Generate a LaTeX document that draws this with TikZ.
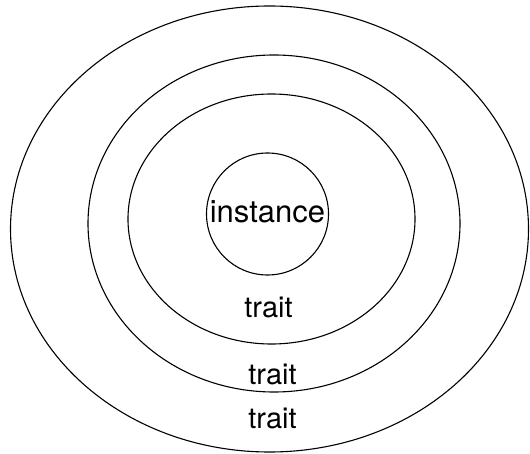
\documentclass[tikz,border=0pt]{standalone}
\usepackage{fontspec}
\setmainfont{TeX Gyre Heros}
\usetikzlibrary{shapes.geometric}
\begin{document}
\begin{tikzpicture}[
    x=1pt,y=-1pt,
    ring/.style={draw,ellipse,line width=1.1pt,inner sep=0pt},
    lbl/.style={anchor=base,inner sep=0pt,font=\fontsize{29}{34}\selectfont}
]
\useasboundingbox (0,0) rectangle (530,454);
\node[ring,minimum width=518pt,minimum height=446pt] (outer) at (269.5,229) {};
\node[ring,minimum width=372pt,minimum height=337pt] (middle) at (274,223.5) {};
\node[ring,minimum width=287pt,minimum height=250pt] (inner) at (271.5,219) {};
\node[ring,circle,minimum size=122pt] (core) at (267.5,214) {};
\node[lbl,font=\fontsize{31}{36}\selectfont] (inst) at (267.5,222.5) {instance};
\node[lbl] (trait1) at (268.5,317) {trait};
\node[lbl] (trait2) at (272.5,384) {trait};
\node[lbl] (trait3) at (272.5,428) {trait};
\end{tikzpicture}
\end{document}
